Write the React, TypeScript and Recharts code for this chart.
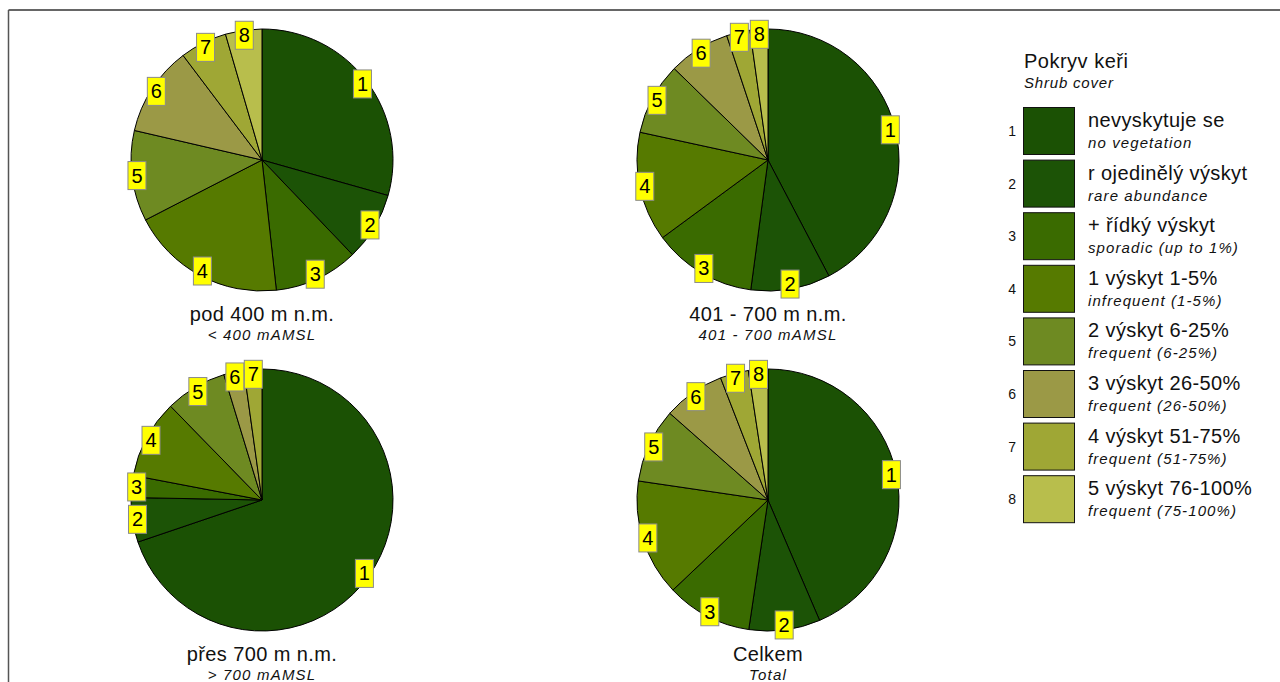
import React from 'react';
import { PieChart, Pie, Cell } from 'recharts';

// cover classes 1..8
const classes = ['1', '2', '3', '4', '5', '6', '7', '8'];
const classColors = ['#1B5104', '#1C5306', '#3A6B00', '#567A00', '#6E8A22', '#9B9946', '#9FA735', '#B8BE4C'];

const legendMain = [
  'nevyskytuje se',
  'r ojedinělý výskyt',
  '+ řídký výskyt',
  '1 výskyt 1-5%',
  '2 výskyt 6-25%',
  '3 výskyt 26-50%',
  '4 výskyt 51-75%',
  '5 výskyt 76-100%',
];
const legendSub = [
  'no vegetation',
  'rare abundance',
  'sporadic (up to 1%)',
  'infrequent (1-5%)',
  'frequent (6-25%)',
  'frequent (26-50%)',
  'frequent (51-75%)',
  'frequent (75-100%)',
];

// share of plots (%) per class
const below400 = [29.4, 8.5, 10.4, 19.2, 11.2, 11.1, 5.8, 4.5];
const from401to700 = [42.3, 9.8, 12.8, 13.5, 8.9, 7.6, 2.9, 2.2];
const above700 = [69.8, 5.5, 2.7, 9.7, 7.6, 2.5, 2.2, 0];
const total = [43.6, 8.8, 10.6, 14.4, 9.2, 7.6, 3.5, 2.4];

const panels = [
  { values: below400, title: 'pod 400 m n.m.', sub: '< 400 mAMSL', left: 112, top: 10 },
  { values: from401to700, title: '401 - 700 m n.m.', sub: '401 - 700 mAMSL', left: 618, top: 10 },
  { values: above700, title: 'přes 700 m n.m.', sub: '> 700 mAMSL', left: 112, top: 350 },
  { values: total, title: 'Celkem', sub: 'Total', left: 618, top: 350 },
];

const FONT = '"Liberation Sans", Arial, sans-serif';
const RADIAN = Math.PI / 180;
const R = 131;

const renderLabel = (props: any) => {
  const { cx, cy, midAngle, payload } = props;
  const r = 126;
  const x = cx + r * Math.cos(-midAngle * RADIAN);
  const y = cy + r * Math.sin(-midAngle * RADIAN);
  return (
    <g>
      <rect x={x - 9} y={y - 14} width={18} height={28} fill="#FFFF00" stroke="#8A8A8A" strokeWidth={1} />
      <text x={x} y={y + 7} textAnchor="middle" fontFamily={FONT} fontSize={20} fill="#000">
        {payload.name}
      </text>
    </g>
  );
};

const PiePanel = ({ values, title, sub, left, top }: any) => {
  const data = classes
    .map((name, i) => ({ name, value: values[i], color: classColors[i] }))
    .filter((d) => d.value > 0);
  return (
    <div style={{ position: 'absolute', left, top, width: 300, height: 340 }}>
      <PieChart width={300} height={295} margin={{ top: 0, right: 0, bottom: 0, left: 0 }}>
        <Pie
          data={data}
          dataKey="value"
          cx={150}
          cy={150}
          outerRadius={R}
          startAngle={90}
          endAngle={-270}
          stroke="#000"
          strokeWidth={1}
          label={renderLabel}
          labelLine={false}
          isAnimationActive={false}
        >
          {data.map((d) => (
            <Cell key={d.name} fill={d.color} />
          ))}
        </Pie>
      </PieChart>
      <svg width={300} height={55} style={{ position: 'absolute', left: 0, top: 285 }}>
        <text x={150} y={26} textAnchor="middle" fontFamily={FONT} fontSize={20} letterSpacing={0.4} fill="#111">
          {title}
        </text>
        <text x={150} y={45} textAnchor="middle" fontFamily={FONT} fontSize={15} fontStyle="italic" letterSpacing={1.2} fill="#111">
          {sub}
        </text>
      </svg>
    </div>
  );
};

const App: React.FC = () => {
  return (
    <div style={{ position: 'absolute', left: 0, top: 0, width: 1280, height: 682, background: '#fff', overflow: 'hidden' }}>
      <svg width={1280} height={682} style={{ position: 'absolute', left: 0, top: 0 }}>
        <line x1={8.5} y1={10} x2={1280} y2={10} stroke="#333" strokeWidth={1.5} />
        <line x1={8.5} y1={10} x2={8.5} y2={682} stroke="#555" strokeWidth={1.5} />

        {/* legend */}
        <text x={1024} y={68} fontFamily={FONT} fontSize={20} letterSpacing={0.5} fill="#111">Pokryv keři</text>
        <text x={1024} y={88} fontFamily={FONT} fontSize={15} fontStyle="italic" letterSpacing={0.8} fill="#111">Shrub cover</text>
        {classes.map((c, i) => {
          const top = 107 + i * 52.6;
          return (
            <g key={c}>
              <text x={1016} y={top + 29} textAnchor="end" fontFamily={FONT} fontSize={14} fill="#111">{c}</text>
              <rect x={1023.5} y={top + 0.5} width={51} height={47} fill={classColors[i]} stroke="#111" strokeWidth={1} />
              <text x={1088} y={top + 20} fontFamily={FONT} fontSize={20} letterSpacing={0.4} fill="#111">{legendMain[i]}</text>
              <text x={1088} y={top + 41} fontFamily={FONT} fontSize={15} fontStyle="italic" letterSpacing={1.1} fill="#111">{legendSub[i]}</text>
            </g>
          );
        })}
      </svg>
      {panels.map((p) => (
        <PiePanel key={p.title} {...p} />
      ))}
    </div>
  );
};

export default App;
